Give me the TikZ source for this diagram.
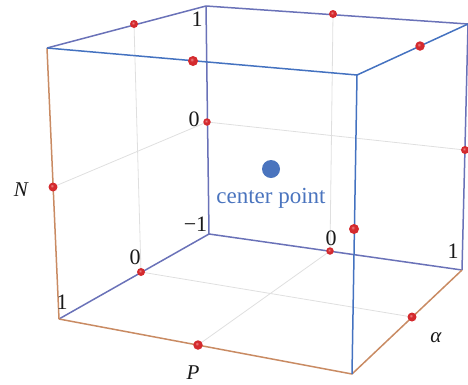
\documentclass[tikz,border=0pt]{standalone}
\usepackage{xcolor}
\usepackage{tikz}
\usepackage{fontspec}
\setmainfont{Liberation Serif}
\definecolor{frontblue}{HTML}{4472C0}
\definecolor{backblue}{HTML}{6A72B8}
\definecolor{edgeorange}{HTML}{C98B63}
\definecolor{labelblue}{HTML}{4A74BE}
\definecolor{balllight}{HTML}{EE8A8A}
\definecolor{ballmid}{HTML}{D42A2E}
\definecolor{balldark}{HTML}{B01E22}
\pgfdeclareradialshading{redball}{\pgfpoint{-0.25cm}{0.28cm}}{
  color(0bp)=(balllight);
  color(10bp)=(ballmid);
  color(45bp)=(ballmid);
  color(70bp)=(balldark)}
\tikzset{
  frontedge/.style={draw=frontblue,line width=1.5pt},
  backedge/.style={draw=backblue,line width=1.5pt},
  orangeedge/.style={draw=edgeorange,line width=1.5pt},
  gridline/.style={draw=gray!25,line width=0.8pt},
  reddot/.style={circle,inner sep=0pt,minimum size=#1,shading=redball},
  axisnum/.style={font=\fontsize{22}{22}\selectfont,text=black!90},
  axisname/.style={font=\fontsize{21}{21}\selectfont\itshape,text=black!90}
}
\begin{document}
\begin{tikzpicture}[x=1pt,y=-1pt]
\useasboundingbox (0,0) rectangle (468,384);
\coordinate (topleft) at (47,48);
\coordinate (topback) at (206,6);
\coordinate (topright) at (468,24);
\coordinate (topfront) at (357,75);
\coordinate (botleft) at (59,319);
\coordinate (botback) at (209,234);
\coordinate (botright) at (462,270);
\coordinate (botfront) at (352,374);
\coordinate (gridA) at (134,24);
\coordinate (gridB) at (207,122);
\coordinate (gridC) at (53,187);
\coordinate (gridD) at (333,14);
\coordinate (gridE) at (465,150);
\coordinate (gridF) at (330,251);
\coordinate (gridG) at (141,272);
\coordinate (gridH) at (198,345);
\coordinate (gridI) at (412,317);
\draw[gridline] (gridA) -- (gridG);
\draw[gridline] (gridC) -- (gridB);
\draw[gridline] (gridB) -- (gridE);
\draw[gridline] (gridD) -- (gridF);
\draw[gridline] (gridG) -- (gridI);
\draw[gridline] (gridF) -- (gridH);
\draw[backedge] (topback) -- (botback);
\draw[backedge] (botback) -- (botright);
\draw[backedge] (botback) -- (botleft);
\draw[backedge] (topback) -- (topleft);
\draw[backedge] (topback) -- (topright);
\draw[backedge] (topright) -- (botright);
\draw[orangeedge] (topleft) -- (botleft);
\draw[orangeedge] (botleft) -- (botfront);
\draw[orangeedge] (botfront) -- (botright);
\draw[frontedge] (topleft) -- (topfront);
\draw[frontedge] (topfront) -- (topright);
\draw[frontedge] (topfront) -- (botfront);
\node[reddot=8pt] (dotA) at (gridA) {};
\node[reddot=10pt] (dotJ) at (193,61) {};
\node[reddot=7.5pt] (dotB) at (gridB) {};
\node[reddot=9pt] (dotC) at (gridC) {};
\node[reddot=8pt] (dotD) at (gridD) {};
\node[reddot=9.5pt] (dotK) at (420,46) {};
\node[reddot=8pt] (dotE) at (gridE) {};
\node[reddot=10pt] (dotL) at (354,229) {};
\node[reddot=7.5pt] (dotF) at (gridF) {};
\node[reddot=8pt] (dotG) at (gridG) {};
\node[reddot=9.5pt] (dotH) at (gridH) {};
\node[reddot=9pt] (dotI) at (gridI) {};
\node[circle,fill=labelblue,inner sep=0pt,minimum size=18pt] (center) at (271,169) {};
\node[font=\fontsize{23}{23}\selectfont,text=labelblue] (centerlabel) at (271,198) {center point};
\node[axisnum] (numA) at (197,19) {1};
\node[axisnum] (numB) at (194,119) {0};
\node[axisnum] (numC) at (196,224) {\kern-1pt−1};
\node[axisnum] (numD) at (135,257) {0};
\node[axisnum] (numE) at (62,302) {1};
\node[axisnum] (numF) at (331,238) {0};
\node[axisnum] (numG) at (453,251) {1};
\node[axisname] (nameN) at (21,190) {N};
\node[axisname] (nameP) at (193,373) {P};
\node[axisname] (namea) at (436,338) {α};
\end{tikzpicture}
\end{document}
